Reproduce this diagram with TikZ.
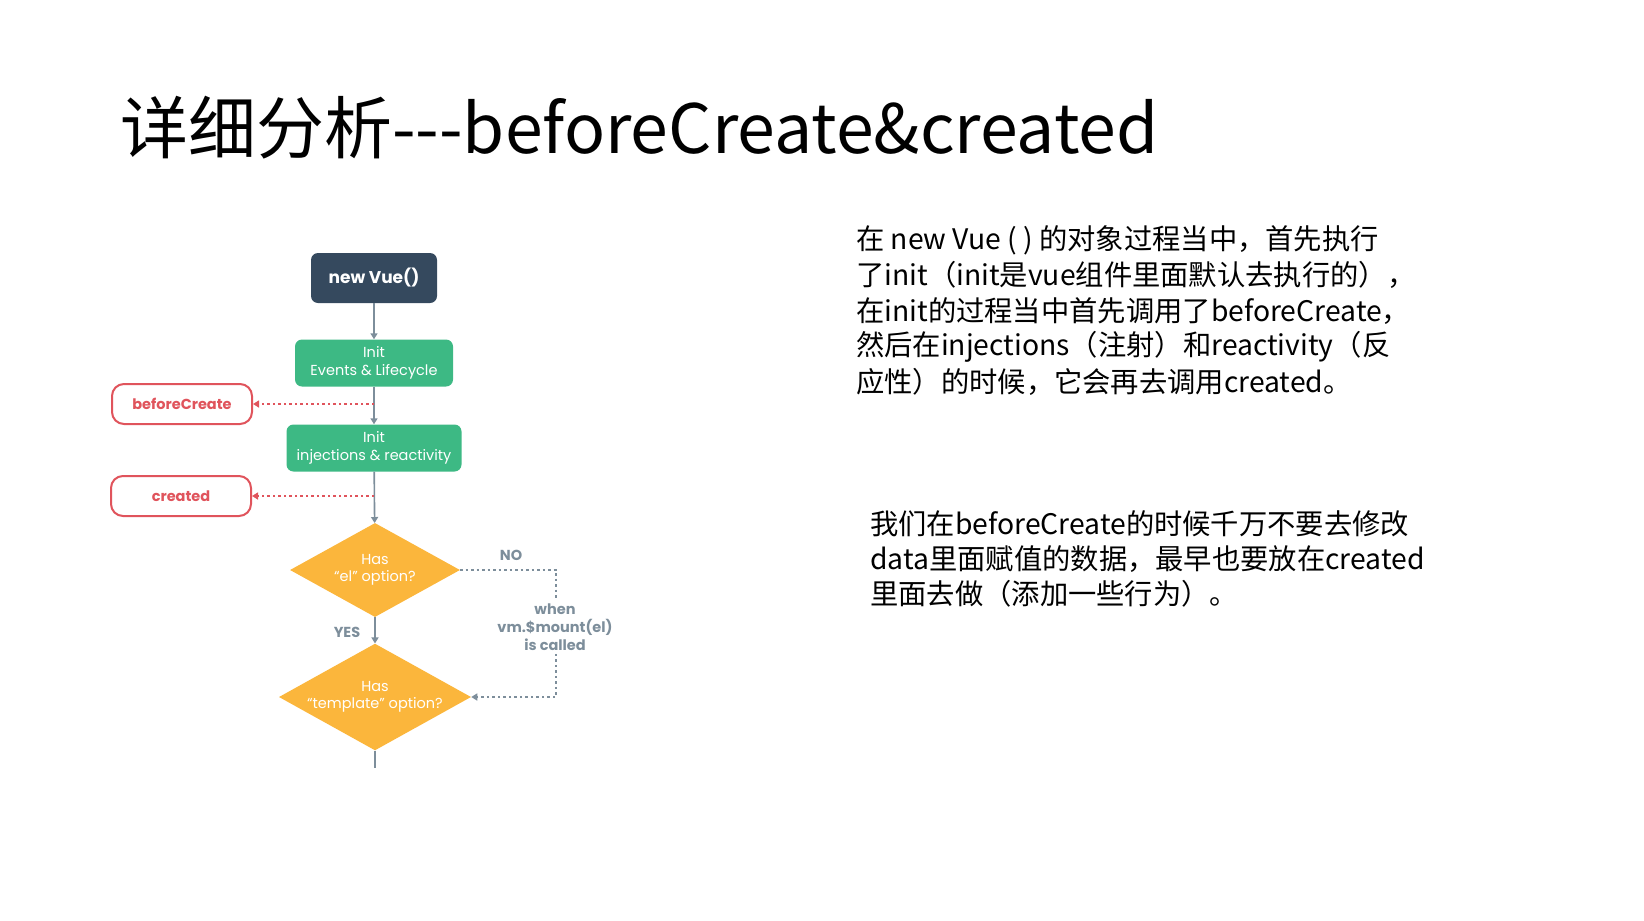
\documentclass[tikz,border=0pt]{standalone}
\usepackage{fontspec}
\setmainfont{Noto Sans CJK SC}
\newfontfamily\flow{Poppins}
\usetikzlibrary{shapes.geometric,arrows.meta}
\definecolor{vdark}{HTML}{35495E}
\definecolor{vgreen}{HTML}{3DB984}
\definecolor{vred}{HTML}{E0545C}
\definecolor{vyel}{HTML}{FBB63C}
\definecolor{vgray}{HTML}{7D8E9B}
\tikzset{
  box/.style={rounded corners=7pt,text=white,align=center,inner sep=0pt,font=\flow\fontsize{14.5}{17.5}\selectfont},
  hook/.style={rounded corners=12pt,draw=vred,line width=2pt,fill=white,text=vred,minimum width=140pt,minimum height=40pt,font=\flow\bfseries\fontsize{14.5}{17}\selectfont},
  dia/.style={diamond,fill=vyel,text=white,align=center,minimum width=170pt,minimum height=94pt,aspect=1.8,inner sep=0pt,font=\flow\fontsize{14.5}{17.5}\selectfont},
  flowar/.style={vgray,line width=1.6pt,-{Triangle[length=6pt,width=7pt]}},
  redar/.style={vred,line width=1.8pt,dash pattern=on 2.5pt off 3pt,-{Triangle[length=6pt,width=7pt]}},
  grayd/.style={vgray,line width=1.6pt,dash pattern=on 2.5pt off 3pt},
  lbl/.style={text=vgray,font=\flow\bfseries\fontsize{14.5}{17.5}\selectfont,align=center},
  para/.style={anchor=west,inner sep=0pt,font=\fontsize{28.3}{33}\selectfont}
}
\begin{document}
\begin{tikzpicture}[x=1pt,y=-1pt]
\useasboundingbox (0,0) rectangle (1644,921);
\node[anchor=west,inner sep=0pt,font=\fontsize{68}{80}\selectfont] (title) at (120,128) {详细分析-{}-{}-beforeCreate\&created};

\node[box,fill=vdark,minimum width=126pt,minimum height=50pt,font=\flow\bfseries\fontsize{17}{20}\selectfont] (vue) at (374,278) {new Vue()};
\node[box,fill=vgreen,minimum width=158pt,minimum height=47pt] (ev) at (374,363) {Init\\Events \& Lifecycle};
\node[box,fill=vgreen,minimum width=175pt,minimum height=47pt] (inj) at (374,448) {Init\\injections \& reactivity};
\node[hook] (bc) at (182,404) {beforeCreate};
\node[hook] (cr) at (181,496) {created};
\node[dia] (d1) at (375,570) {Has\\“el” option?};
\node[dia] (d2) at (375,697) {Has\\“template” option?};
\coordinate (endl) at (375,768);

\draw[flowar] (vue) -- (ev);
\draw[flowar] (ev) -- (inj);
\draw[flowar] (inj) -- (d1);
\draw[flowar] (d1) -- (d2);
\draw[vgray,line width=1.6pt] (d2) -- (endl);
\draw[redar] (ev.south |- bc.east) -- (bc.east);
\draw[redar] (inj.south |- cr.east) -- (cr.east);

\node[lbl] (no) at (511,555) {NO};
\node[lbl] (yes) at (347,632) {YES};
\node[lbl,font=\flow\bfseries\fontsize{14.5}{18}\selectfont] (when) at (555,627) {when\\vm.\$mount(el)\\is called};
\draw[grayd] (d1.east) -- (556,570) -- (when.north -| 556,0);
\draw[grayd,-{Triangle[length=6pt,width=7pt]}] (when.south -| 556,0) -- (556,697) -- (d2.east);

\node[para] (p1) at (856,240) {在 new Vue ( ) 的对象过程当中，首先执行};
\node[para] (p2) at (856,275) {了init（init是vue组件里面默认去执行的），};
\node[para] (p3) at (856,311) {在init的过程当中首先调用了beforeCreate，};
\node[para] (p4) at (856,347) {然后在injections（注射）和reactivity（反};
\node[para] (p5) at (856,382) {应性）的时候，它会再去调用created。};
\node[para] (q1) at (870,524) {我们在beforeCreate的时候千万不要去修改};
\node[para] (q2) at (870,559) {data里面赋值的数据，最早也要放在created};
\node[para] (q3) at (870,594) {里面去做（添加一些行为）。};
\end{tikzpicture}
\end{document}
